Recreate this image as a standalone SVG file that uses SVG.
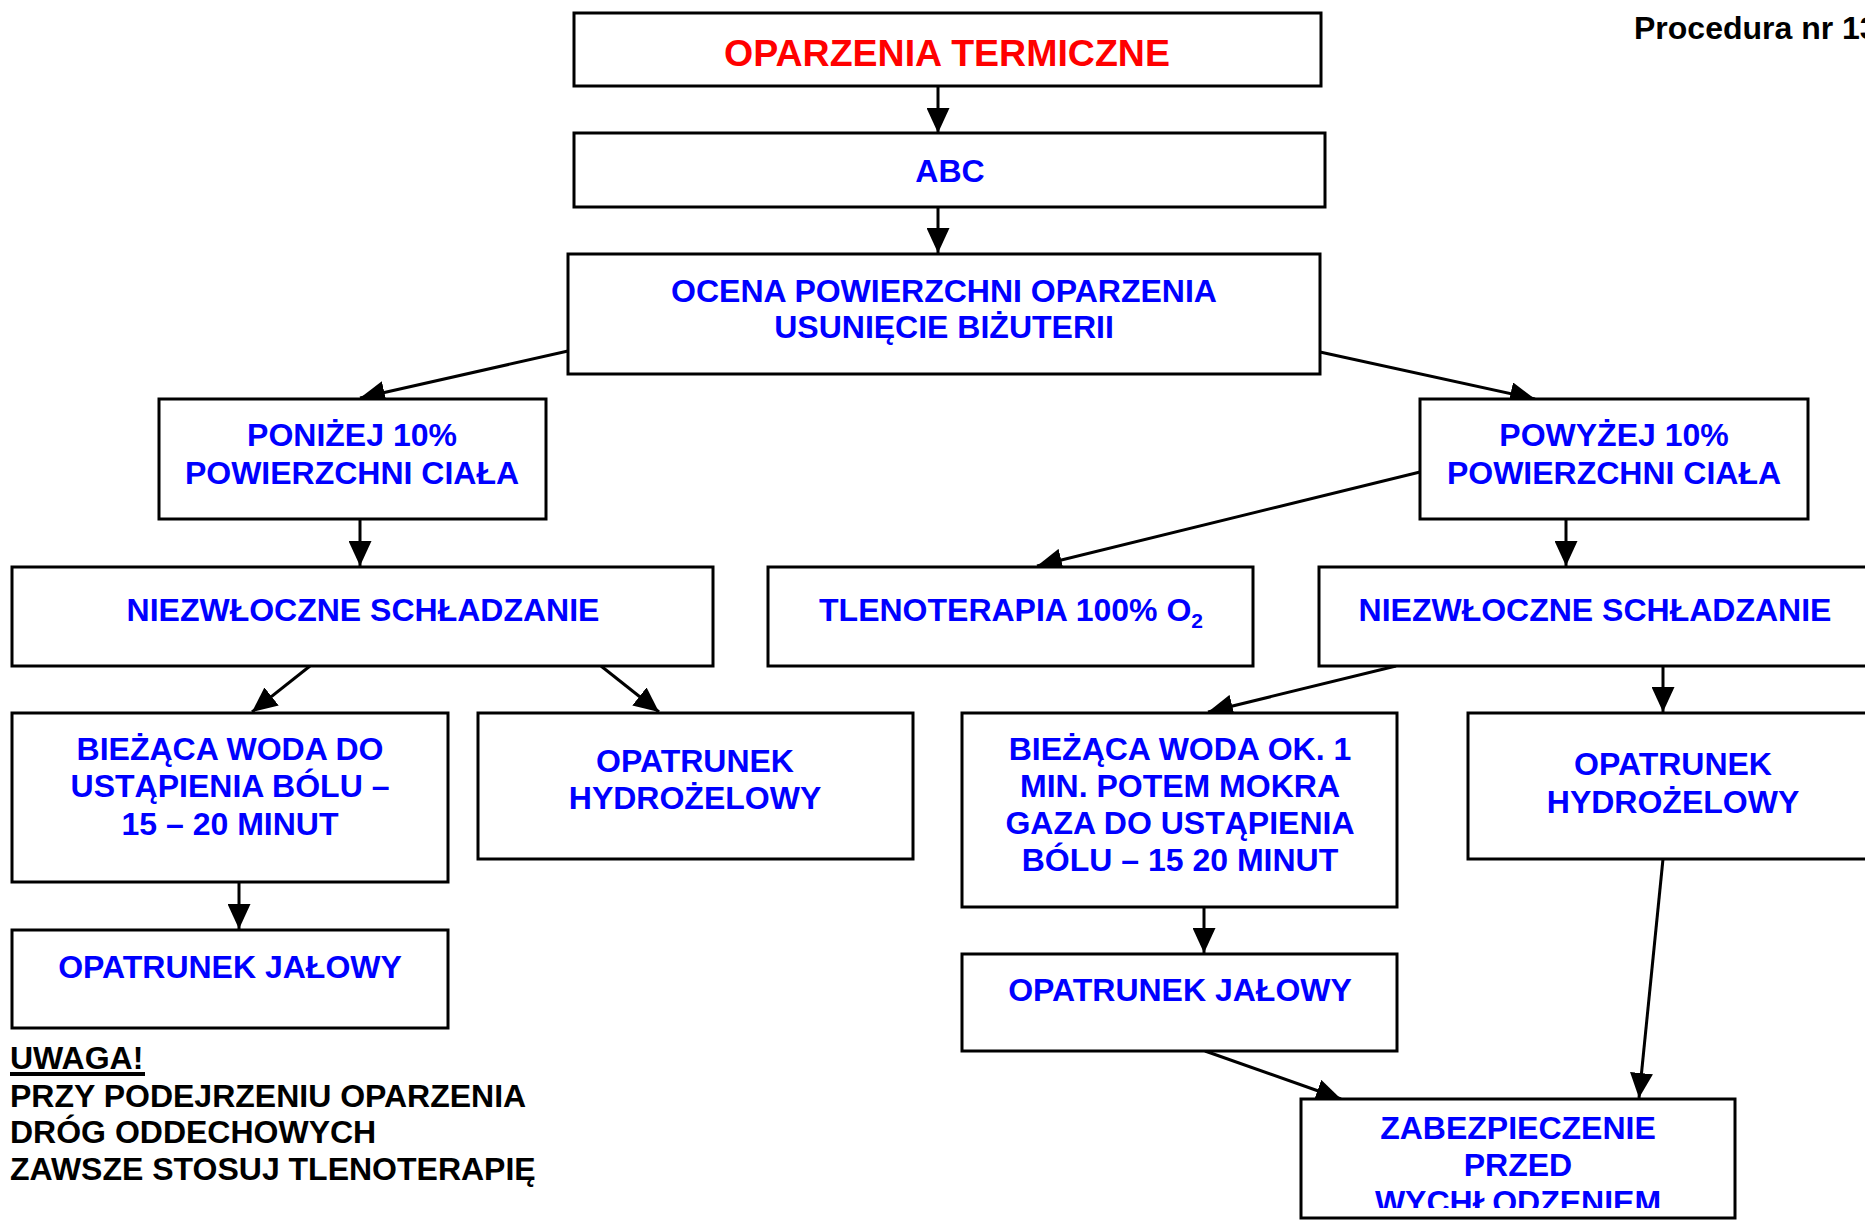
<svg xmlns="http://www.w3.org/2000/svg" width="1865" height="1220" viewBox="0 0 1865 1220">
<defs>
<style>
.box{fill:#fff;stroke:#000;stroke-width:3}
.t{font-family:"Liberation Sans",Arial,sans-serif;font-weight:bold;font-size:32px;fill:#0000ff;text-anchor:middle}
.red{fill:#ff0000;font-size:37.5px}
.k{font-family:"Liberation Sans",Arial,sans-serif;font-weight:bold;font-size:32px;fill:#000}
.c{stroke:#000;stroke-width:3;fill:none;marker-end:url(#ah)}
</style>
<marker id="ah" markerUnits="userSpaceOnUse" markerWidth="25" markerHeight="23" refX="25" refY="11.5" orient="auto">
<path d="M0,0 L25,11.5 L0,23 Z" fill="#000"/>
</marker>
<clipPath id="zclip"><rect x="1300" y="1099" width="440" height="109"/></clipPath>
</defs>
<rect width="1865" height="1220" fill="#fff"/>
<text class="k" x="1634" y="39">Procedura nr 13</text>

<g id="connectors">
<line class="c" x1="938" y1="86" x2="938" y2="133"/>
<line class="c" x1="938" y1="207" x2="938" y2="253"/>
<line class="c" x1="568" y1="351" x2="360" y2="398"/>
<line class="c" x1="1320" y1="352" x2="1535" y2="399"/>
<line class="c" x1="360" y1="519" x2="360" y2="566"/>
<line class="c" x1="1420" y1="472" x2="1037" y2="566"/>
<line class="c" x1="1566" y1="519" x2="1566" y2="566"/>
<line class="c" x1="310" y1="666" x2="252" y2="712"/>
<line class="c" x1="601" y1="666" x2="659" y2="712"/>
<line class="c" x1="239" y1="882" x2="239" y2="929"/>
<line class="c" x1="1396" y1="666" x2="1208" y2="712"/>
<line class="c" x1="1663" y1="666" x2="1663" y2="712"/>
<line class="c" x1="1204" y1="907" x2="1204" y2="953"/>
<line class="c" x1="1205" y1="1051" x2="1341" y2="1099"/>
<line class="c" x1="1663" y1="859" x2="1639" y2="1098"/>
</g>

<g id="n-oparzenia">
<rect class="box" x="574" y="13" width="747" height="73"/>
<text class="t red" x="947" y="66">OPARZENIA TERMICZNE</text>
</g>
<g id="n-abc">
<rect class="box" x="574" y="133" width="751" height="74"/>
<text class="t" x="950" y="182">ABC</text>
</g>
<g id="n-ocena">
<rect class="box" x="568" y="254" width="752" height="120"/>
<text class="t" x="944" y="302">OCENA POWIERZCHNI OPARZENIA</text>
<text class="t" x="944" y="338">USUNIĘCIE BIŻUTERII</text>
</g>
<g id="n-ponizej">
<rect class="box" x="159" y="399" width="387" height="120"/>
<text class="t" x="352" y="446">PONIŻEJ 10%</text>
<text class="t" x="352" y="484">POWIERZCHNI CIAŁA</text>
</g>
<g id="n-powyzej">
<rect class="box" x="1420" y="399" width="388" height="120"/>
<text class="t" x="1614" y="446">POWYŻEJ 10%</text>
<text class="t" x="1614" y="484">POWIERZCHNI CIAŁA</text>
</g>
<g id="n-schl-left">
<rect class="box" x="12" y="567" width="701" height="99"/>
<text class="t" x="363" y="621">NIEZWŁOCZNE SCHŁADZANIE</text>
</g>
<g id="n-tleno">
<rect class="box" x="768" y="567" width="485" height="99"/>
<text class="t" x="1011" y="621">TLENOTERAPIA 100% O<tspan font-size="21" dy="7">2</tspan></text>
</g>
<g id="n-schl-right">
<rect class="box" x="1319" y="567" width="560" height="99"/>
<text class="t" x="1595" y="621">NIEZWŁOCZNE SCHŁADZANIE</text>
</g>
<g id="n-woda-left">
<rect class="box" x="12" y="713" width="436" height="169"/>
<text class="t" x="230" y="760">BIEŻĄCA WODA DO</text>
<text class="t" x="230" y="797">USTĄPIENIA BÓLU –</text>
<text class="t" x="230" y="835">15 – 20 MINUT</text>
</g>
<g id="n-hydro-left">
<rect class="box" x="478" y="713" width="435" height="146"/>
<text class="t" x="695" y="772">OPATRUNEK</text>
<text class="t" x="695" y="809">HYDROŻELOWY</text>
</g>
<g id="n-jalowy-left">
<rect class="box" x="12" y="930" width="436" height="98"/>
<text class="t" x="230" y="978">OPATRUNEK JAŁOWY</text>
</g>
<g id="n-woda-right">
<rect class="box" x="962" y="713" width="435" height="194"/>
<text class="t" x="1180" y="760">BIEŻĄCA WODA OK. 1</text>
<text class="t" x="1180" y="797">MIN. POTEM MOKRA</text>
<text class="t" x="1180" y="834">GAZA DO USTĄPIENIA</text>
<text class="t" x="1180" y="871">BÓLU – 15 20 MINUT</text>
</g>
<g id="n-hydro-right">
<rect class="box" x="1468" y="713" width="410" height="146"/>
<text class="t" x="1673" y="775">OPATRUNEK</text>
<text class="t" x="1673" y="813">HYDROŻELOWY</text>
</g>
<g id="n-jalowy-right">
<rect class="box" x="962" y="954" width="435" height="97"/>
<text class="t" x="1180" y="1001">OPATRUNEK JAŁOWY</text>
</g>
<g id="n-zabezp">
<rect class="box" x="1301" y="1099" width="434" height="119"/>
<text class="t" x="1518" y="1139">ZABEZPIECZENIE</text>
<text class="t" x="1518" y="1176">PRZED</text>
<text class="t" x="1518" y="1213" clip-path="url(#zclip)">WYCHŁODZENIEM</text>
</g>

<g id="uwaga">
<text class="k" x="10" y="1069">UWAGA!</text>
<rect x="10" y="1072" width="135" height="4" fill="#000"/>
<text class="k" x="10" y="1107">PRZY PODEJRZENIU OPARZENIA</text>
<text class="k" x="10" y="1143">DRÓG ODDECHOWYCH</text>
<text class="k" x="10" y="1180">ZAWSZE STOSUJ TLENOTERAPIĘ</text>
</g>
</svg>
